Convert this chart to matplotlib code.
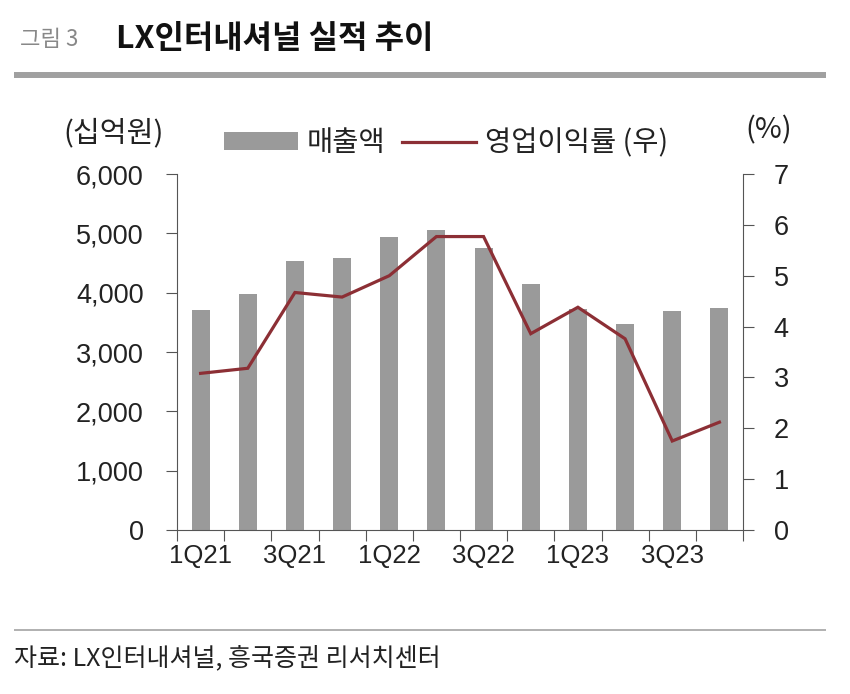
import matplotlib
matplotlib.use("Agg")
import matplotlib.pyplot as plt
from matplotlib.lines import Line2D
from matplotlib.patches import Patch
import numpy as np

# ---- data ----
quarters = ["1Q21", "2Q21", "3Q21", "4Q21", "1Q22", "2Q22", "3Q22", "4Q22",
            "1Q23", "2Q23", "3Q23", "4Q23"]
sales = [3713, 3983, 4528, 4579, 4944, 5051, 4758, 4146, 3730, 3472, 3686, 3747]
op_margin = [3.08, 3.18, 4.67, 4.58, 5.00, 5.77, 5.77, 3.86, 4.38, 3.76, 1.75, 2.12]
shown_labels = ["1Q21", "3Q21", "1Q22", "3Q22", "1Q23", "3Q23"]
left_ticks = [0, 1000, 2000, 3000, 4000, 5000, 6000]
right_ticks = [0, 1, 2, 3, 4, 5, 6, 7]

plt.rcParams['font.family'] = ['Noto Sans CJK KR', 'DejaVu Sans']
NUM_FONT = ['Liberation Sans', 'DejaVu Sans']

W, H = 850, 694
fig = plt.figure(figsize=(W / 100, H / 100), dpi=100)

def fx(px):
    return px / W

def fy(py):
    return 1 - py / H

ax = fig.add_axes([fx(177), fy(530), fx(743) - fx(177), fy(174) - fy(530)])
ax2 = ax.twinx()

BAR_C = "#9a9a9a"
LINE_C = "#8c2f35"
SPINE_C = "#555555"
TXT_C = "#222222"

x = np.arange(len(quarters))
ax.bar(x, sales, width=0.38, color=BAR_C, zorder=2)
ax2.plot(x, op_margin, color=LINE_C, linewidth=2.3, zorder=3,
         solid_joinstyle="miter")

ax.set_xlim(-0.5, len(quarters) - 0.5)
ax.set_ylim(0, 6000)
ax2.set_ylim(0, 7)

# x ticks: boundaries as major ticks, labels as minor ticks
ax.set_xticks(np.arange(-0.5, len(quarters), 1.0))
ax.set_xticklabels([])
lab_pos = [quarters.index(q) for q in shown_labels]
ax.set_xticks(lab_pos, minor=True)
ax.set_xticklabels(shown_labels, minor=True, fontfamily=NUM_FONT,
                   fontsize=18.5, color=TXT_C)
ax.tick_params(axis='x', which='major', direction='out', length=8,
               width=0.8, color=SPINE_C)
ax.tick_params(axis='x', which='minor', length=0, pad=10)

ax.set_yticks(left_ticks)
ax.set_yticklabels([f"{v:,}" for v in left_ticks], fontfamily=NUM_FONT,
                   fontsize=19.5, color=TXT_C)
ax.tick_params(axis='y', direction='out', length=8, width=0.8,
               color=SPINE_C, pad=16)

ax2.set_yticks(right_ticks)
ax2.set_yticklabels([str(v) for v in right_ticks], fontfamily=NUM_FONT,
                    fontsize=19.5, color=TXT_C)
ax2.tick_params(axis='y', direction='out', length=8, width=0.8,
                color=SPINE_C, pad=14)

for a in (ax, ax2):
    a.spines['top'].set_visible(False)
    for s in ('left', 'right', 'bottom'):
        a.spines[s].set_color(SPINE_C)
        a.spines[s].set_linewidth(0.8)
ax.spines['right'].set_visible(False)
ax2.spines['left'].set_visible(False)
ax2.spines['bottom'].set_visible(False)

# legend
handles = [Patch(facecolor=BAR_C, edgecolor='none', label="매출액"),
           Line2D([0], [0], color=LINE_C, linewidth=2.3, label="영업이익률 (우)")]
leg = ax.legend(handles=handles, loc='center left',
                bbox_to_anchor=(fx(224), fy(143)),
                bbox_transform=fig.transFigure, ncol=2, frameon=False,
                fontsize=20.5, handlelength=2.6, handleheight=0.55,
                handletextpad=0.3, columnspacing=0.6, borderpad=0,
                borderaxespad=0)
for t in leg.get_texts():
    t.set_color(TXT_C)

# axis unit labels
fig.text(fx(63), fy(133), "(십억원)", fontsize=21, color=TXT_C,
         ha='left', va='center')
fig.text(fx(745), fy(130), "(%)", fontsize=21, color=TXT_C,
         ha='left', va='center')

# title
fig.text(fx(20), fy(40), "그림 3", fontsize=16, color="#888888",
         ha='left', va='center')
fig.text(fx(116), fy(39), "LX인터내셔널 실적 추이", fontsize=23,
         fontweight='bold', color="#111111", ha='left', va='center')

# rules
fig.add_artist(Line2D([fx(14), fx(826)], [fy(75), fy(75)],
                      transform=fig.transFigure, color="#a0a0a0",
                      linewidth=4.3, solid_capstyle='butt'))
fig.add_artist(Line2D([fx(14), fx(826)], [fy(630), fy(630)],
                      transform=fig.transFigure, color="#aaaaaa",
                      linewidth=1.3, solid_capstyle='butt'))

# source
fig.text(fx(14), fy(658), "자료: LX인터내셔널, 흥국증권 리서치센터",
         fontsize=18, color=TXT_C, ha='left', va='center')

fig.savefig("out.png", dpi=100)
